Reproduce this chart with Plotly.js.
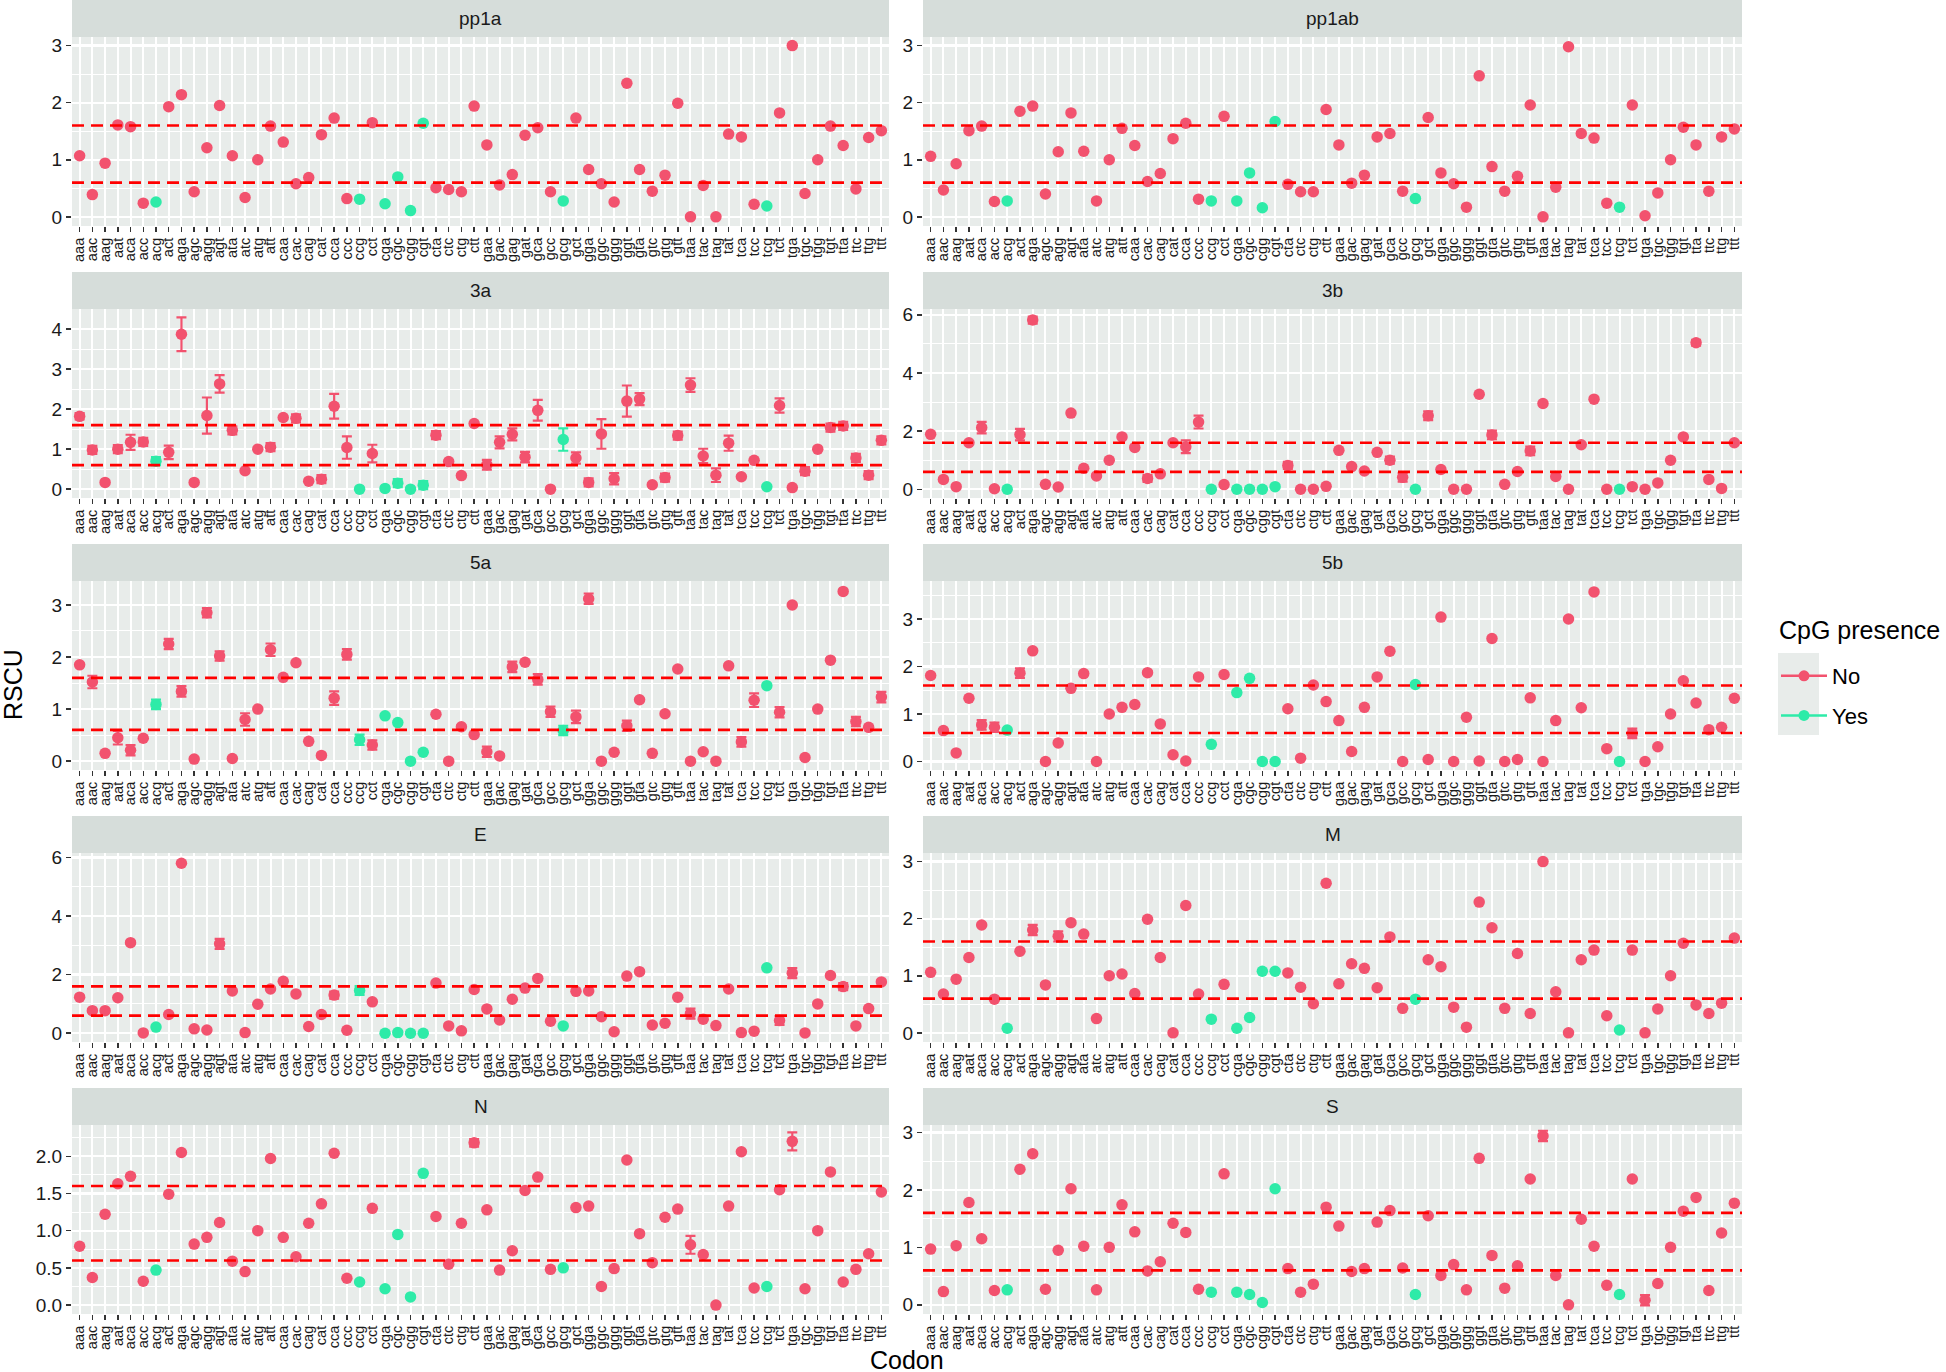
<!DOCTYPE html>
<html>
<head>
<meta charset="utf-8">
<script src="https://cdn.plot.ly/plotly-3.0.1.min.js"></script>
<style>
  body { margin: 0; background: #fff; }
  #chart { width: 1946px; height: 1372px; }
</style>
</head>
<body>
<div id="chart"></div>
<script>
// codons on the x axis (alphabetical, as in the figure)
const codons = ['aaa','aac','aag','aat','aca','acc','acg','act','aga','agc','agg','agt','ata','atc','atg','att',
  'caa','cac','cag','cat','cca','ccc','ccg','cct','cga','cgc','cgg','cgt','cta','ctc','ctg','ctt',
  'gaa','gac','gag','gat','gca','gcc','gcg','gct','gga','ggc','ggg','ggt','gta','gtc','gtg','gtt',
  'taa','tac','tag','tat','tca','tcc','tcg','tct','tga','tgc','tgg','tgt','tta','ttc','ttg','ttt'];

const genes = ['pp1a', 'pp1ab', '3a', '3b', '5a', '5b', 'E', 'M', 'N', 'S'];

// RSCU values, one per codon
const rscuPp1a = [1.07,0.39,0.94,1.61,1.58,0.24,0.26,1.93, 2.14,0.44,1.21,1.95,1.07,0.34,1.0,1.59,
  1.31,0.58,0.69,1.44,1.73,0.32,0.31,1.65, 0.23,0.70,0.11,1.64,0.51,0.48,0.44,1.94,
  1.26,0.56,0.74,1.43,1.56,0.44,0.28,1.73, 0.83,0.58,0.26,2.34,0.83,0.45,0.73,1.99,
  0.0,0.55,0.0,1.45,1.40,0.22,0.19,1.82, 3.0,0.41,1.0,1.59,1.25,0.49,1.39,1.51];
const rscuPp1ab = [1.06,0.47,0.93,1.51,1.59,0.27,0.28,1.85, 1.94,0.40,1.14,1.82,1.15,0.28,1.0,1.55,
  1.25,0.62,0.76,1.37,1.64,0.31,0.28,1.76, 0.28,0.77,0.16,1.67,0.57,0.44,0.44,1.88,
  1.26,0.59,0.73,1.40,1.46,0.45,0.32,1.74, 0.77,0.58,0.17,2.47,0.88,0.45,0.71,1.96,
  0.0,0.52,2.98,1.46,1.38,0.24,0.17,1.96, 0.02,0.42,1.0,1.57,1.26,0.45,1.40,1.54];
const rscu3a = [1.82,0.98,0.17,1.0,1.17,1.18,0.70,0.92, 3.87,0.17,1.84,2.63,1.47,0.46,1.0,1.05,
  1.79,1.77,0.2,0.25,2.07,1.04,0.0,0.89, 0.02,0.15,0.0,0.1,1.35,0.69,0.34,1.64,
  0.61,1.17,1.37,0.8,1.97,0.0,1.24,0.78, 0.17,1.38,0.26,2.2,2.25,0.11,0.29,1.34,
  2.6,0.83,0.35,1.15,0.31,0.72,0.06,2.09, 0.04,0.45,1.0,1.54,1.58,0.78,0.35,1.22];
const rscu3b = [1.89,0.34,0.09,1.6,2.12,0.02,0.0,1.88, 5.82,0.17,0.08,2.62,0.72,0.46,1.0,1.8,
  1.44,0.37,0.53,1.6,1.46,2.31,0.0,0.16, 0.0,0.0,0.0,0.09,0.82,0.0,0.0,0.1,
  1.34,0.78,0.63,1.27,1.0,0.41,0.0,2.53, 0.68,0.0,0.0,3.27,1.87,0.17,0.61,1.32,
  2.95,0.44,0.0,1.53,3.1,0.0,0.0,0.09, 0.0,0.22,1.0,1.8,5.04,0.34,0.03,1.6];
const rscu5a = [1.85,1.52,0.15,0.45,0.21,0.44,1.09,2.25, 1.34,0.04,2.85,2.02,0.05,0.8,1.0,2.14,
  1.61,1.89,0.38,0.11,1.21,2.05,0.41,0.31, 0.87,0.74,0.0,0.17,0.9,0.0,0.66,0.51,
  0.18,0.1,1.81,1.9,1.57,0.95,0.59,0.85, 3.12,0.0,0.17,0.68,1.18,0.15,0.91,1.77,
  0.0,0.18,0.0,1.83,0.37,1.17,1.45,0.94, 3.0,0.07,1.0,1.94,3.26,0.76,0.65,1.23];
const rscu5b = [1.81,0.65,0.18,1.33,0.77,0.72,0.66,1.86, 2.33,0.0,0.39,1.54,1.85,0.0,1.0,1.14,
  1.2,1.87,0.79,0.14,0.01,1.78,0.36,1.83, 1.45,1.75,0.0,0.0,1.11,0.07,1.61,1.26,
  0.86,0.21,1.14,1.78,2.32,0.0,1.62,0.04, 3.04,0.0,0.93,0.01,2.59,0.0,0.04,1.34,
  0.0,0.86,3.0,1.13,3.57,0.27,0.0,0.59, 0.0,0.31,1.0,1.7,1.23,0.67,0.72,1.33];
const rscuE = [1.23,0.77,0.77,1.21,3.09,0.01,0.21,0.64, 5.8,0.15,0.11,3.05,1.44,0.02,0.99,1.51,
  1.77,1.34,0.23,0.64,1.3,0.1,1.46,1.07, 0.0,0.02,0.0,0.0,1.71,0.25,0.08,1.49,
  0.83,0.45,1.16,1.54,1.87,0.41,0.25,1.43, 1.44,0.56,0.05,1.95,2.1,0.28,0.34,1.23,
  0.67,0.48,0.26,1.51,0.02,0.07,2.23,0.43, 2.05,0.01,1.0,1.97,1.59,0.25,0.84,1.75];
const rscuM = [1.06,0.68,0.94,1.32,1.89,0.59,0.08,1.43, 1.8,0.84,1.69,1.93,1.73,0.25,1.0,1.03,
  0.69,1.99,1.32,0.0,2.23,0.68,0.24,0.85, 0.08,0.27,1.08,1.08,1.05,0.8,0.51,2.62,
  0.86,1.21,1.13,0.79,1.68,0.43,0.59,1.28, 1.16,0.45,0.1,2.29,1.84,0.43,1.39,0.34,
  3.0,0.72,0.0,1.28,1.45,0.3,0.05,1.45, 0.0,0.42,1.0,1.57,0.49,0.34,0.52,1.66];
const rscuN = [0.79,0.37,1.22,1.63,1.73,0.32,0.47,1.49, 2.05,0.82,0.91,1.11,0.59,0.45,1.0,1.97,
  0.91,0.65,1.1,1.36,2.04,0.36,0.31,1.3, 0.22,0.95,0.11,1.77,1.19,0.55,1.1,2.18,
  1.28,0.47,0.73,1.54,1.72,0.48,0.5,1.31, 1.33,0.25,0.49,1.95,0.96,0.57,1.18,1.29,
  0.81,0.68,0.0,1.33,2.06,0.23,0.25,1.55, 2.2,0.22,1.0,1.79,0.31,0.48,0.69,1.52];
const rscuS = [0.97,0.23,1.03,1.78,1.15,0.25,0.26,2.36, 2.63,0.27,0.95,2.02,1.02,0.26,1.0,1.74,
  1.27,0.59,0.75,1.42,1.26,0.27,0.22,2.28, 0.22,0.18,0.04,2.02,0.63,0.22,0.36,1.7,
  1.37,0.58,0.63,1.44,1.64,0.64,0.18,1.55, 0.51,0.7,0.26,2.55,0.86,0.29,0.68,2.19,
  2.94,0.51,0.0,1.49,1.02,0.34,0.18,2.19, 0.08,0.37,1.0,1.63,1.87,0.25,1.25,1.77];

// half-widths of the error bars, only for codons that have one
const err3a = {aaa:0.08, aac:0.1, aat:0.1, aca:0.19, acc:0.1, acg:0.1, act:0.17, aga:0.42, agg:0.45, agt:0.22,
  ata:0.1, att:0.1, cac:0.1, cat:0.1, cca:0.31, ccc:0.28, cct:0.22, cgc:0.1, cgt:0.1, cta:0.1,
  gaa:0.12, gac:0.15, gag:0.15, gat:0.13, gca:0.26, gcg:0.28, gct:0.14, gga:0.1, ggc:0.37, ggg:0.14,
  ggt:0.39, gta:0.15, gtg:0.1, gtt:0.1, taa:0.17, tac:0.18, tag:0.17, tat:0.19, tct:0.18, tgc:0.1,
  tgt:0.1, tta:0.1, ttc:0.1, ttg:0.1, ttt:0.1};
const err3b = {aca:0.2, act:0.2, aga:0.12, cac:0.12, cca:0.22, ccc:0.22, cta:0.12, gca:0.12, gcc:0.15,
  gct:0.15, gta:0.15, gtt:0.15, tta:0.1};
const err5a = {aac:0.12, aat:0.13, aca:0.1, acg:0.09, act:0.1, aga:0.1, agg:0.09, agt:0.09, atc:0.12, att:0.12,
  cca:0.13, ccc:0.1, ccg:0.1, cct:0.09, gaa:0.1, gag:0.1, gca:0.1, gcc:0.1, gcg:0.09, gct:0.12,
  gga:0.1, ggt:0.1, tca:0.09, tcc:0.13, tct:0.1, ttc:0.09, ttt:0.1};
const err5b = {aca:0.1, acc:0.1, act:0.1, tct:0.1};
const errE = {agt:0.17, cca:0.12, ccg:0.15, taa:0.17, tct:0.15, tga:0.17, tta:0.12};
const errM = {aga:0.09, agg:0.09};
const errN = {ctt:0.05, taa:0.12, tga:0.12};
const errS = {taa:0.09, tga:0.09};

const thresholds = [0.6, 1.6];

const panelValues = [rscuPp1a, rscuPp1ab, rscu3a, rscu3b, rscu5a, rscu5b, rscuE, rscuM, rscuN, rscuS];
const panelErrors = [{}, {}, err3a, err3b, err5a, err5b, errE, errM, errN, errS];

// axis settings per facet (free y scales)
const yRanges = [[-0.16, 3.15], [-0.16, 3.15], [-0.22, 4.5], [-0.3, 6.2], [-0.17, 3.46],
                 [-0.18, 3.8], [-0.3, 6.15], [-0.16, 3.15], [-0.12, 2.42], [-0.16, 3.13]];
const yDticks = [1, 1, 1, 2, 1, 1, 2, 1, 0.5, 1];

const colNo = '#F2526E', colYes = '#2EEBA8';
const W = 1946, H = 1372;
const colX = [[72, 889], [923, 1742]];
const ROW = 272, STRIP = 37, PLOT_H = 189;
const FONT = 'Liberation Sans, Arial, Helvetica, sans-serif';

const isCpG = codons.map(c => c.includes('cg'));

const traces = [];
const shapes = [];
const annotations = [];
const layout = {
  width: W, height: H,
  margin: { l: 0, r: 0, t: 0, b: 0 },
  paper_bgcolor: '#ffffff',
  plot_bgcolor: '#E8ECEA',
  font: { family: FONT, color: '#222' },
  hovermode: false,
  showlegend: true,
  legend: {
    x: 1776 / W, xanchor: 'left', y: 1 - 655 / H, yanchor: 'top',
    bgcolor: 'rgba(0,0,0,0)',
    font: { size: 22, color: '#000' },
    traceorder: 'grouped', tracegroupgap: 8,
    itemwidth: 46
  }
};

genes.forEach((gene, i) => {
  const col = i % 2, row = Math.floor(i / 2);
  const sfx = i === 0 ? '' : String(i + 1);
  const [x0, x1] = colX[col];
  const top = row * ROW + STRIP, bottom = top + PLOT_H;
  const dtick = yDticks[i];

  layout['xaxis' + sfx] = {
    domain: [x0 / W, x1 / W], anchor: 'y' + sfx,
    type: 'category', categoryorder: 'array', categoryarray: codons,
    tickmode: 'array', tickvals: codons, ticktext: codons,
    range: [-0.6, codons.length - 0.4],
    tickangle: -90, tickfont: { size: 14.5, color: '#1a1a1a' },
    ticks: 'outside', ticklen: 5, tickwidth: 1.5, tickcolor: '#333',
    showgrid: true, gridcolor: '#ffffff', gridwidth: 2,
    zeroline: false, showline: false, fixedrange: true
  };
  layout['yaxis' + sfx] = {
    domain: [1 - bottom / H, 1 - top / H], anchor: 'x' + sfx,
    range: yRanges[i], tickmode: 'linear', tick0: 0, dtick: dtick,
    tickformat: dtick < 1 ? '.1f' : '',
    tickfont: { size: 19, color: '#1a1a1a' },
    ticks: 'outside', ticklen: 5, tickwidth: 1.5, tickcolor: '#333',
    showgrid: true, gridcolor: '#ffffff', gridwidth: 2.2,
    minor: { tickmode: 'linear', tick0: 0, dtick: dtick / 2, showgrid: true,
             gridcolor: '#ffffff', gridwidth: 1, ticks: '' },
    zeroline: false, showline: false, fixedrange: true
  };

  // strip
  shapes.push({
    type: 'rect', xref: 'paper', yref: 'paper', layer: 'below',
    x0: x0 / W, x1: x1 / W, y0: 1 - (row * ROW + STRIP) / H, y1: 1 - (row * ROW) / H,
    fillcolor: '#D6DDDA', line: { width: 0 }
  });
  annotations.push({
    xref: 'paper', yref: 'paper', x: (x0 + x1) / 2 / W, y: 1 - (row * ROW + STRIP / 2) / H,
    text: gene, showarrow: false, xanchor: 'center', yanchor: 'middle',
    font: { size: 19, color: '#1a1a1a' }
  });

  thresholds.forEach(t => shapes.push({
    type: 'line', xref: 'x' + sfx + ' domain', yref: 'y' + sfx, layer: 'above',
    x0: 0, x1: 1, y0: t, y1: t,
    line: { color: '#FF0000', width: 2.6, dash: '12px,7px' }
  }));

  const vals = panelValues[i], errs = panelErrors[i];
  [false, true].forEach(cpg => {
    const idx = codons.map((c, k) => k).filter(k => isCpG[k] === cpg);
    const color = cpg ? colYes : colNo;
    traces.push({
      type: 'scatter', mode: 'markers',
      xaxis: 'x' + sfx, yaxis: 'y' + sfx,
      x: idx.map(k => codons[k]),
      y: idx.map(k => vals[k]),
      error_y: {
        type: 'data', visible: true, color: color, thickness: 2.2, width: 5,
        array: idx.map(k => errs[codons[k]])
      },
      marker: { color: color, size: 11.5, line: { width: 0 } },
      showlegend: false, cliponaxis: false
    });
  });
});

// legend entries (point with range line, as in the key)
[['No', colNo], ['Yes', colYes]].forEach(([name, color]) => traces.push({
  type: 'scatter', mode: 'lines+markers', x: [null], y: [null],
  name: name, legendgroup: name,
  line: { color: color, width: 2.5 },
  marker: { color: color, size: 11 },
  showlegend: true
}));

// key background
shapes.push({
  type: 'rect', xref: 'paper', yref: 'paper', layer: 'below',
  x0: 1778 / W, x1: 1819 / W, y0: 1 - 735 / H, y1: 1 - 653 / H,
  fillcolor: '#E8ECEA', line: { width: 0 }
});

annotations.push({
  xref: 'paper', yref: 'paper', x: 1777 / W, y: 1 - 630 / H, text: 'CpG presence',
  showarrow: false, xanchor: 'left', yanchor: 'middle',
  font: { size: 25, color: '#000' }
});
annotations.push({
  xref: 'paper', yref: 'paper', x: 13 / W, y: 1 - 685 / H, text: 'RSCU',
  textangle: -90, showarrow: false, xanchor: 'center', yanchor: 'middle',
  font: { size: 25, color: '#000' }
});
annotations.push({
  xref: 'paper', yref: 'paper', x: 907 / W, y: 1 - 1360 / H, text: 'Codon',
  showarrow: false, xanchor: 'center', yanchor: 'middle',
  font: { size: 25, color: '#000' }
});

layout.shapes = shapes;
layout.annotations = annotations;

Plotly.newPlot('chart', traces, layout, { displayModeBar: false, staticPlot: true });
</script>
</body>
</html>
